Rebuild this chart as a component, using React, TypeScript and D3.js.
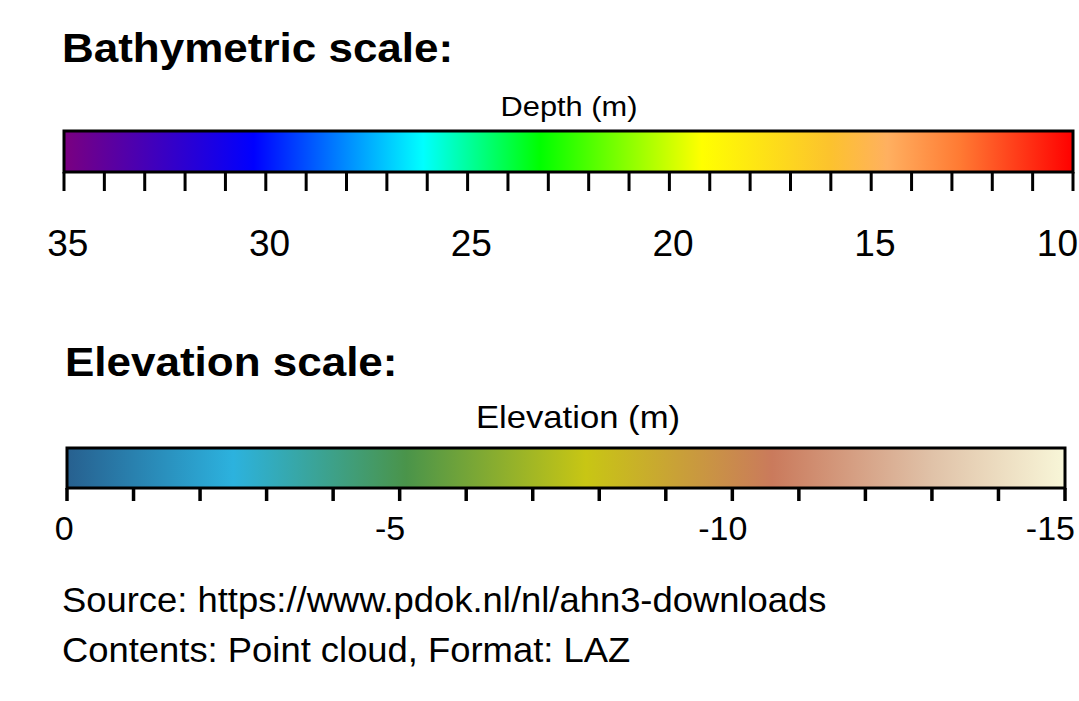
import * as d3 from "d3";
import { useRef, useEffect } from "react";

// depth bar (m), left to right
const depthDomain = [35, 10];
const depthLabels = [35, 30, 25, 20, 15, 10];
const depthStops = [35, 30.3, 26.1, 23.2, 19.2, 16.0, 14.6, 12.8, 10];
const depthColors = ["#7a0080", "#0000ff", "#00ffff", "#00ff00", "#ffff00", "#fcc22e", "#ffb060", "#ff7a33", "#ff0000"];

// elevation bar (m)
const elevDomain = [0, -15];
const elevLabels = [0, -5, -10, -15];
const elevStops = [0, -2.5, -5.1, -7.8, -10.6, -13.0, -15];
const elevColors = ["#27608f", "#2cb2de", "#4a944a", "#c8c614", "#ca7a5c", "#e0c2a8", "#f8f6d8"];

const sourceLines = [
  "Source: https://www.pdok.nl/nl/ahn3-downloads",
  "Contents: Point cloud, Format: LAZ",
];

const FONT = "'Liberation Sans', Arial, sans-serif";

export default function App() {
  const ref = useRef<SVGSVGElement>(null);

  useEffect(() => {
    const width = 1079;
    const height = 701;
    const svg = d3.select(ref.current);
    svg.selectAll("*").remove();
    svg.attr("width", width).attr("height", height);
    svg.append("rect").attr("width", width).attr("height", height).attr("fill", "#fff");
    const defs = svg.append("defs");

    function label(x, y, str, size, opts: any = {}) {
      const sx = opts.sx || 1.1;
      const t = svg.append("text")
        .attr("transform", `translate(${x},${y}) scale(${sx},1)`)
        .attr("text-anchor", opts.anchor || "start")
        .attr("dx", opts.dx || 0)
        .style("font-family", FONT)
        .style("font-size", size + "px")
        .style("font-weight", opts.bold ? "bold" : "normal")
        .style("fill", "#000")
        .text(str);
      // keep labels from running past the right edge
      if (opts.maxRight != null) {
        const bb = (t.node() as SVGTextElement).getBBox();
        const right = x + (bb.x + bb.width) * sx;
        if (right > opts.maxRight) {
          t.attr("transform", `translate(${x - (right - opts.maxRight)},${y}) scale(${sx},1)`);
        }
      }
      return t;
    }

    function colorBar(id, x, stops, colors, top, bottom, tickLen, tickW, ticks) {
      const [x0, x1] = x.range();
      const grad = defs.append("linearGradient")
        .attr("id", id)
        .attr("gradientUnits", "userSpaceOnUse")
        .attr("x1", x0).attr("x2", x1).attr("y1", 0).attr("y2", 0);
      grad.selectAll("stop")
        .data(stops)
        .enter()
        .append("stop")
        .attr("offset", d => (x(d) - x0) / (x1 - x0))
        .attr("stop-color", (d, i) => colors[i]);

      svg.append("rect")
        .attr("x", x0).attr("y", top)
        .attr("width", x1 - x0).attr("height", bottom - top)
        .attr("fill", `url(#${id})`)
        .attr("stroke", "#000")
        .attr("stroke-width", 3);

      svg.append("g")
        .selectAll("line")
        .data(ticks)
        .enter()
        .append("line")
        .attr("x1", d => x(d)).attr("x2", d => x(d))
        .attr("y1", bottom).attr("y2", bottom + tickLen)
        .attr("stroke", "#000")
        .attr("stroke-width", tickW);
    }

    // Bathymetric
    const xDepth = d3.scaleLinear().domain(depthDomain).range([64, 1073]);
    label(62, 62, "Bathymetric scale:", 40, { bold: true });
    label(569, 116, "Depth (m)", 28, { anchor: "middle" });
    colorBar("depthGrad", xDepth, depthStops, depthColors, 131, 172, 19, 3, xDepth.ticks(25));
    depthLabels.forEach(v => label(xDepth(v), 256, String(v), 37, { anchor: "middle", dx: "0.1em", sx: 1.0, maxRight: width - 1 }));

    // Elevation
    const xElev = d3.scaleLinear().domain(elevDomain).range([67, 1065]);
    label(65, 376, "Elevation scale:", 40, { bold: true });
    label(578, 428, "Elevation (m)", 31.5, { anchor: "middle" });
    colorBar("elevGrad", xElev, elevStops, elevColors, 448, 488, 13, 3.5, xElev.ticks(15));
    elevLabels.forEach(v => label(xElev(v), 540, String(v), 34, { anchor: "middle", dx: v < 0 ? "-0.28em" : "-0.08em", sx: 1.0, maxRight: width - 4 }));

    sourceLines.forEach((s, i) => label(62, 612 + i * 50, s, 35, { sx: 1.04 }));
  }, []);

  return (
    <svg ref={ref} style={{ position: "absolute", left: 0, top: 0, display: "block" }}></svg>
  );
}
